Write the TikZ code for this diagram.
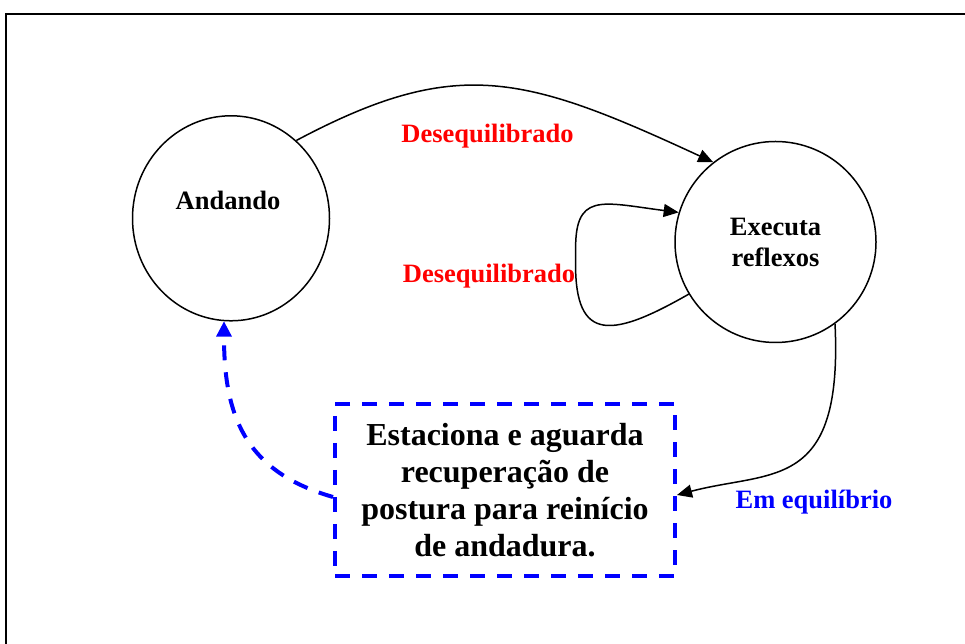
\documentclass[tikz,border=0pt]{standalone}
\usepackage{fontspec}
\setmainfont{Liberation Serif}
\usetikzlibrary{arrows.meta,shapes.geometric}
\definecolor{myred}{RGB}{255,0,0}
\definecolor{myblue}{RGB}{0,0,255}
\tikzset{
  statecirc/.style={draw=black, line width=1.5pt, inner sep=0pt},
  lbl/.style={font=\fontsize{26.5}{31}\selectfont\bfseries, inner sep=0pt},
  conn/.style={draw=black, line width=1.5pt, -{Triangle[length=15pt,width=13pt]}},
  blueconn/.style={draw=myblue, line width=4pt, dash pattern=on 15pt off 12pt, -{Triangle[length=15pt,width=16pt,line width=0pt]}},
  waitbox/.style={draw=myblue, line width=4pt, dash pattern=on 15pt off 12pt, minimum width=340pt, minimum height=172pt, inner sep=0pt, align=center, font=\fontsize{32}{37}\selectfont\bfseries}
}
\begin{document}
\begin{tikzpicture}[x=1pt,y=1pt]
\useasboundingbox (0,0) rectangle (965,644);
% frame
\draw[line width=2pt] (5.7,-5) -- (5.7,629.5) -- (970,629.5);
% states
\node[statecirc, ellipse, minimum width=197pt, minimum height=205pt] (and) at (231,425.7) {};
\node[lbl, anchor=base] (andtxt) at (228,434) {Andando};
\node[statecirc, circle, minimum size=201pt, align=center, lbl] (ex) at (775.5,402) {Executa\\reflexos};
\node[waitbox] (box) at (505,154) {Estaciona e aguarda\\recuperação de\\postura para reinício\\de andadura.};
% labels
\node[lbl, text=myred, anchor=base] (l1) at (487.5,501.7) {Desequilibrado};
\node[lbl, text=myred, anchor=base] (l2) at (489,361) {Desequilibrado};
\node[lbl, text=myblue, anchor=base] (l3) at (814,135.7) {Em equilíbrio};
% connectors
\draw[conn] (and.50) .. controls +(160,85) and +(-190,88) .. (ex.128.4);
\draw[conn] (ex.211) .. controls +(-82,-47) and +(-3,-87) .. ++(-113,40)
  .. controls +(-2,63) and +(-78,10) .. (ex.163);
\draw[conn] (ex.-54) .. controls +(8,-168) and +(95,25) .. ([yshift=-5pt]box.east);
\draw[blueconn] ([yshift=-7pt]box.west) to[out=164,in=-90,looseness=1.15] ([xshift=-7pt]and.south);
\end{tikzpicture}
\end{document}
